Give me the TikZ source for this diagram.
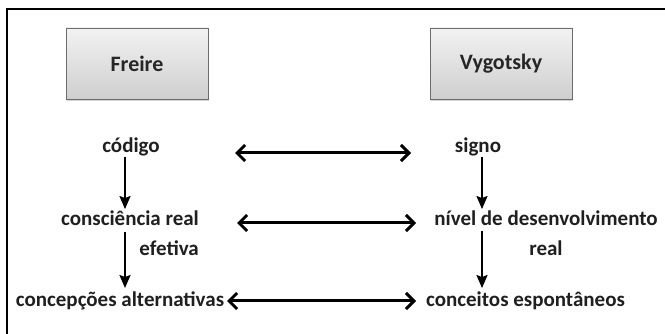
\documentclass[tikz,border=0pt]{standalone}
\usepackage{fontspec}
\setmainfont{Carlito}
\usetikzlibrary{arrows.meta,positioning,shadows}

\tikzset{
  autor/.style={draw=gray!85!black, line width=0.8pt, top color=gray!10, bottom color=gray!38,
    minimum width=142pt, minimum height=71pt,
    drop shadow={shadow xshift=1pt, shadow yshift=-2pt, opacity=0.35},
    font=\fontsize{22}{25}\selectfont\bfseries, text=black!85},
  termo/.style={font=\fontsize{21}{30}\selectfont\bfseries, text=black!88,
    inner sep=0pt, anchor=base},
  seta/.style={{Straight Barb[length=8pt,width=16pt]}-{Straight Barb[length=8pt,width=16pt]}, line width=3pt},
  desce/.style={-{Stealth[length=13pt,width=11pt,inset=2pt]}, line width=2.2pt},
}

\begin{document}
\begin{tikzpicture}[x=1pt, y=-1pt]
    \useasboundingbox (0,0) rectangle (665,334);
    \draw[line width=2.4pt] (7,334) |- (665,9);

    \node (F) [autor] at (137,63.5) {Freire};
    \node (V) [autor] at (501,63.5) {Vygotsky};

    % linhas de base do texto
    \node (codigo) [termo] at (131,153) {código};
    \node (signo) [termo] at (478,153) {signo};
    \node (consc) [termo, align=right] at (130,256) {consciência real\\efetiva};
    \node (nivel) [termo, align=center] at (546,256) {nível de desenvolvimento\\real};
    \node (concep) [termo] at (120,306) {concepções alternativas};
    \node (espont) [termo] at (525.5,306) {conceitos espontâneos};

    % pontas das setas
    \coordinate (h1e) at (235,153);
    \coordinate (h1d) at (411,153);
    \coordinate (h2e) at (237,223);
    \coordinate (h2d) at (416,223);
    \coordinate (h3e) at (227,301);
    \coordinate (h3d) at (416,301);
    \coordinate (v1e) at (125,232);
    \coordinate (v1d) at (482,231);

    \draw[seta] (h1e) -- (h1d);
    \draw[seta] (h2e) -- (h2d);
    \draw[seta] (h3e) -- (h3d);

    \draw[desce] (codigo.south -| v1e) -- ([yshift=2pt]consc.north -| v1e);
    \draw[desce] (signo.south -| v1d) -- ([yshift=2pt]nivel.north -| v1d);
    \draw[desce] (v1e) -- ([yshift=3pt]concep.north -| v1e);
    \draw[desce] (v1d) -- ([yshift=3pt]espont.north -| v1d);
\end{tikzpicture}
\end{document}
